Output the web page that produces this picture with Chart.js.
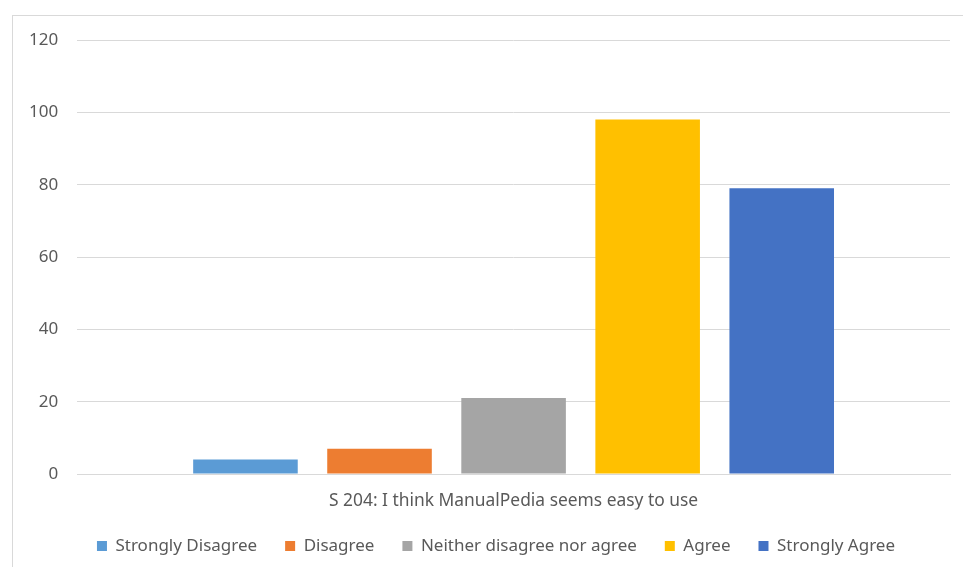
<!DOCTYPE html>
<html>
<head>
<meta charset="utf-8">
<script src="https://cdn.jsdelivr.net/npm/chart.js@4/dist/chart.umd.min.js"></script>
<style>
  html, body { margin: 0; padding: 0; background: #fff; overflow: hidden; }
  #wrap { position: relative; width: 963px; height: 567px; }
  #frame { position: absolute; left: 12px; top: 15px; width: 1000px; height: 600px;
           border: 1px solid #d9d9d9; box-sizing: border-box; }
  #c { position: absolute; left: 0; top: 0; }
</style>
</head>
<body>
<div id="wrap">
  <div id="frame"></div>
  <canvas id="c" width="963" height="567"></canvas>
</div>
<script>
// Survey item and response counts
const categories = ['S 204: I think ManualPedia seems easy to use'];
const responses = ['Strongly Disagree', 'Disagree', 'Neither disagree nor agree', 'Agree', 'Strongly Agree'];
const counts = [4, 7, 21, 98, 79];
const colors = ['#5B9BD5', '#ED7D31', '#A5A5A5', '#FFC000', '#4472C4'];
const yTicks = [0, 20, 40, 60, 80, 100, 120];

const FONT = "'Noto Sans', 'Open Sans', sans-serif";
const TEXT = '#595959';
const LEGEND_HEIGHT = 57.4;
const X_AXIS_HEIGHT = 35.6;
const LEGEND_SHIFT = 16;

const datasets = responses.map((name, i) => ({
  label: name,
  data: [counts[i]],
  backgroundColor: colors[i],
  borderWidth: 0,
  categoryPercentage: 0.768,
  barPercentage: 0.78
}));

// Keep the legend row compact vertically while leaving wide gaps between items,
// and nudge it slightly to the right of the canvas centre.
const legendPlacement = {
  id: 'legendPlacement',
  afterInit(chart) {
    const legend = chart.legend;
    const fit = legend.fit;
    legend.fit = function () {
      fit.call(this);
      this.height = LEGEND_HEIGHT;
    };
  },
  afterLayout(chart) {
    chart.legend.left += LEGEND_SHIFT;
    chart.legend.right += LEGEND_SHIFT;
  }
};

new Chart(document.getElementById('c'), {
  type: 'bar',
  data: { labels: categories, datasets },
  plugins: [legendPlacement],
  options: {
    responsive: false,
    animation: false,
    layout: { padding: { left: 10, right: 13, top: 40, bottom: 0 } },
    plugins: {
      tooltip: { enabled: false },
      legend: {
        position: 'bottom',
        labels: {
          color: TEXT,
          font: { family: FONT, size: 17 },
          boxWidth: 10,
          boxHeight: 10,
          padding: 28
        }
      }
    },
    scales: {
      x: {
        grid: { display: false },
        border: { color: '#d9d9d9' },
        ticks: { color: TEXT, font: { family: FONT, size: 17.4 }, padding: 9 },
        afterFit: (scale) => { scale.height = X_AXIS_HEIGHT; }
      },
      y: {
        min: 0,
        max: 120,
        afterBuildTicks: (axis) => { axis.ticks = yTicks.map(v => ({ value: v })); },
        grid: { color: '#d9d9d9', drawTicks: false },
        border: { display: false },
        ticks: { color: TEXT, font: { family: FONT, size: 17 }, padding: 19 }
      }
    }
  }
});
</script>
</body>
</html>
